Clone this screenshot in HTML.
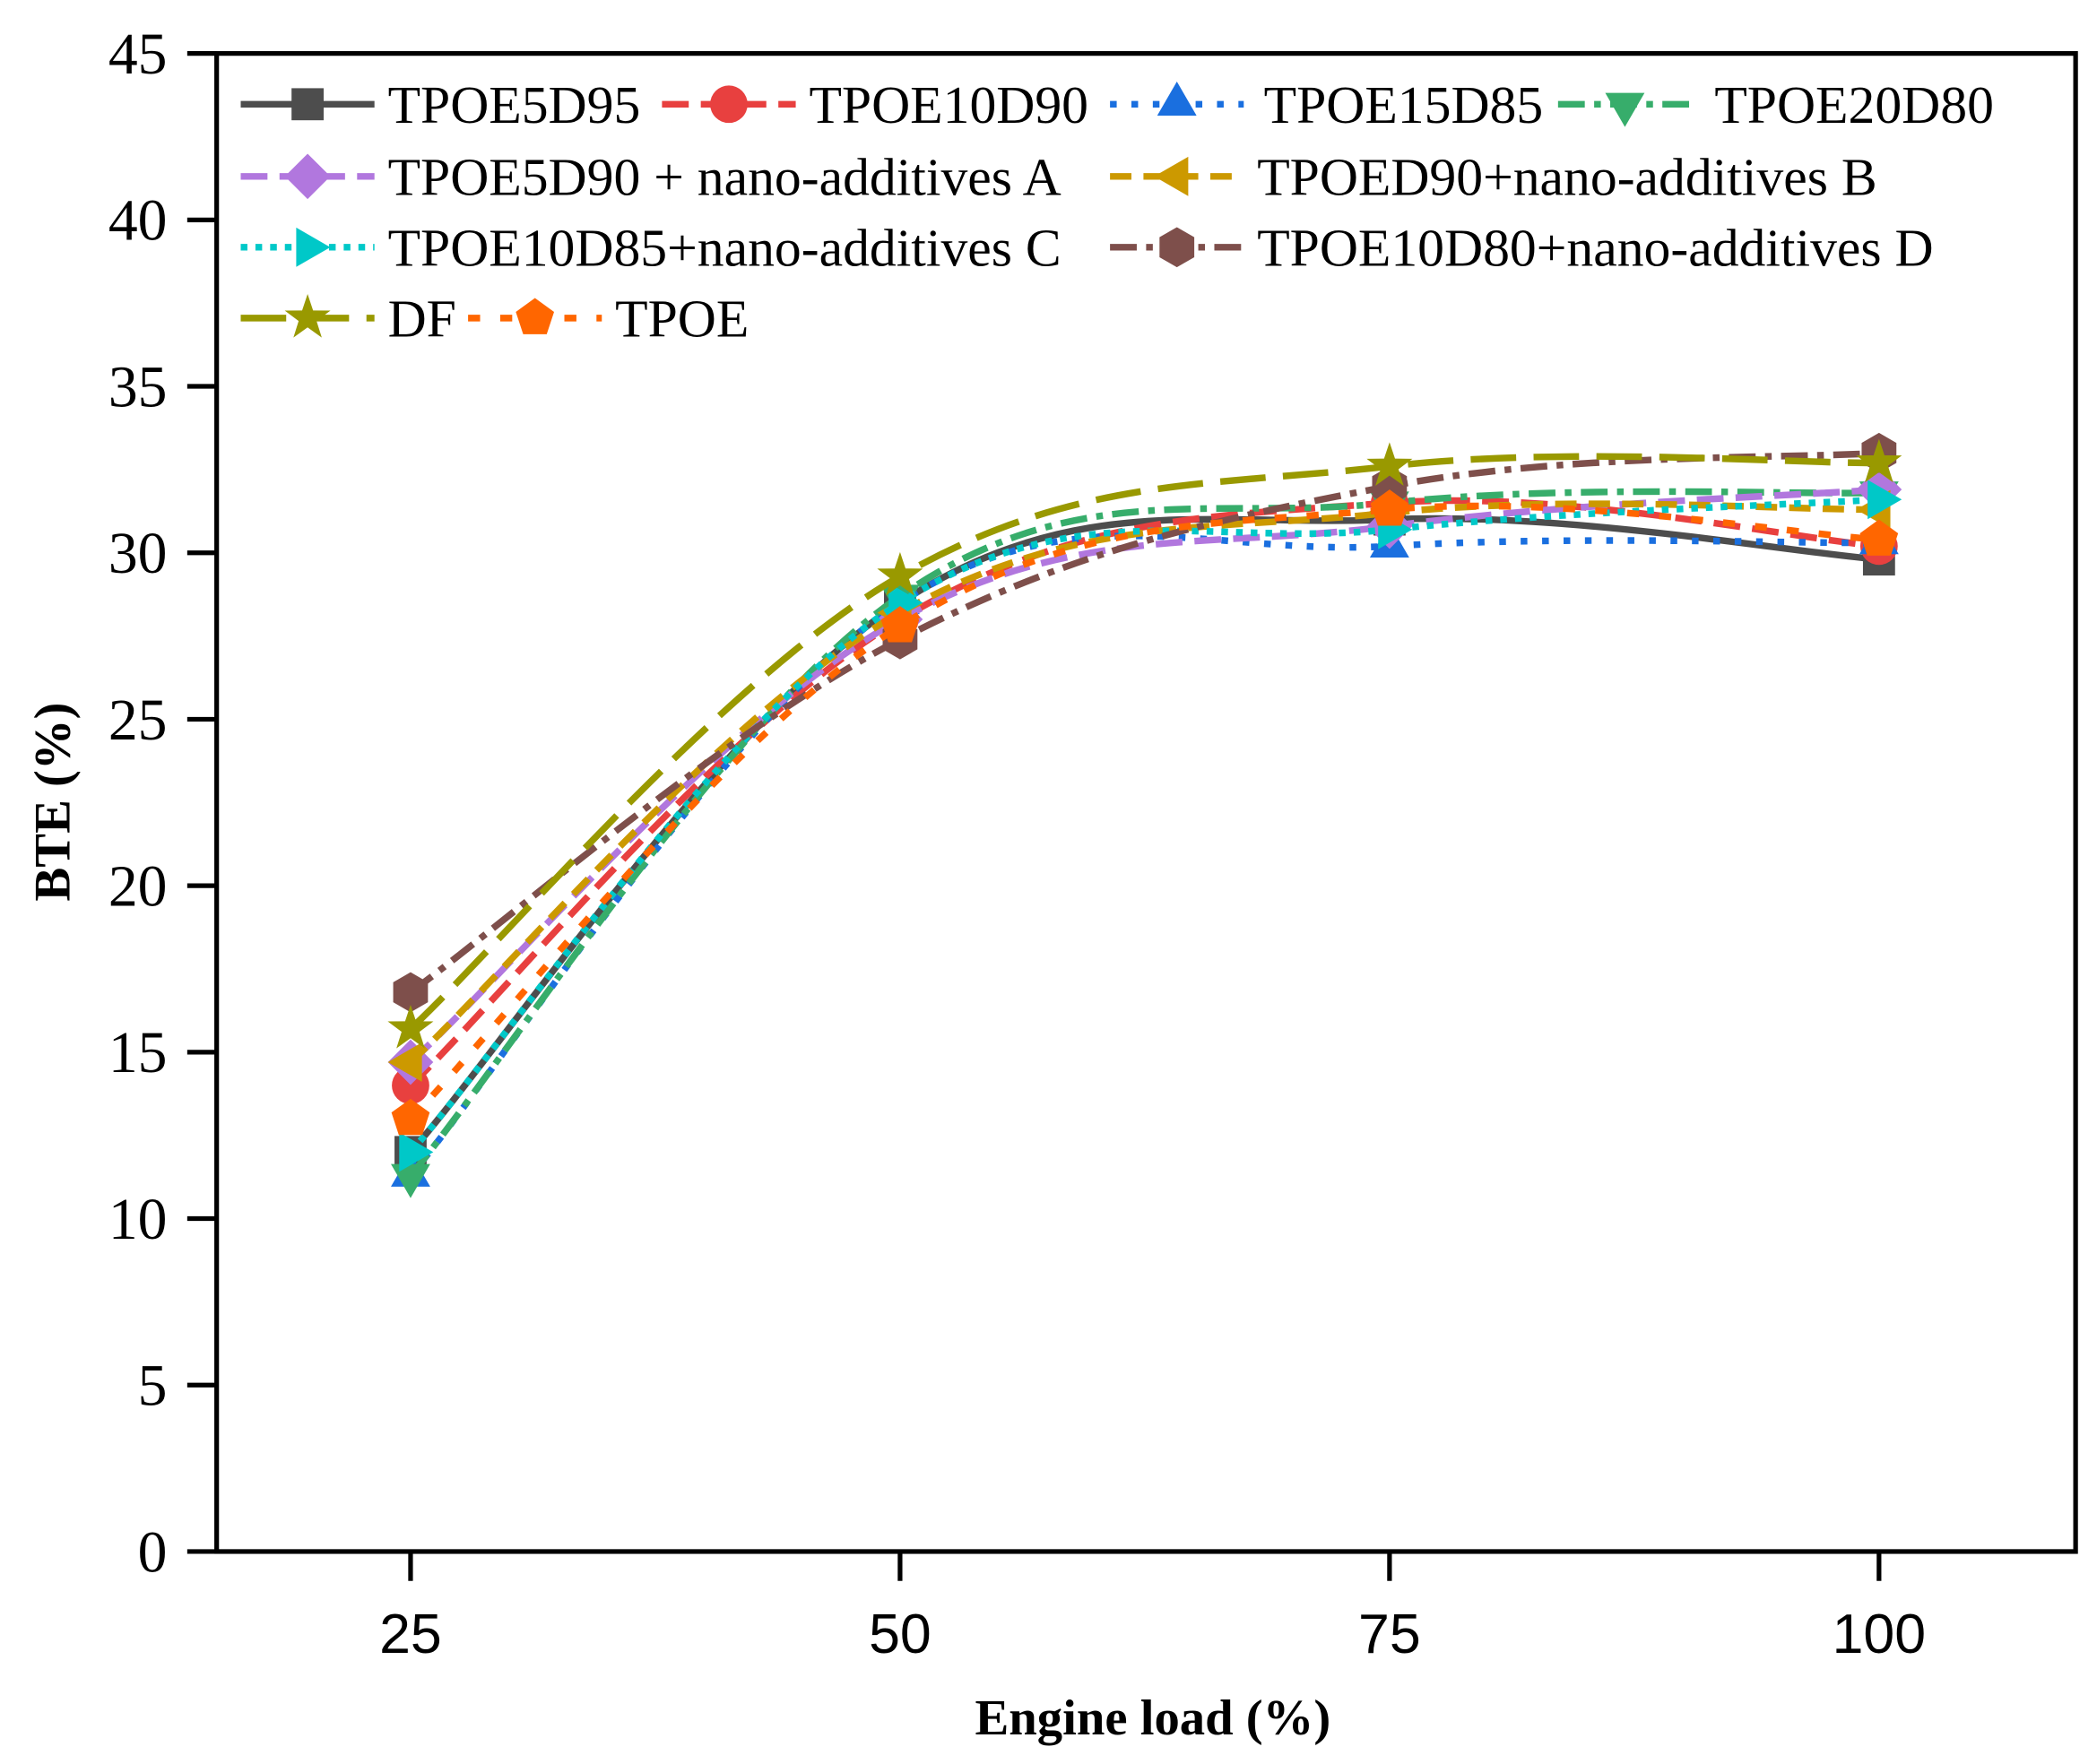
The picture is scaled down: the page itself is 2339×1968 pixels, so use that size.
<!DOCTYPE html>
<html><head><meta charset="utf-8">
<style>html,body{margin:0;padding:0;background:#fff;}svg{display:block;}</style>
</head><body>
<svg id="s" width="2339" height="1968" viewBox="0 0 1568 1320" preserveAspectRatio="none" xmlns="http://www.w3.org/2000/svg">
<rect width="1568" height="1320" fill="#fff"/>
<g id="curves"></g>
<rect x="162" y="40" width="1390" height="1121" fill="none" stroke="#000" stroke-width="3.5"/>
<g id="ticks" stroke="#000" stroke-width="3.5"></g>
<g id="labels"></g>
<g id="legend"></g>
<text x="0" y="0" transform="translate(52,600) rotate(-90)" text-anchor="middle" font-family="Liberation Serif, serif" font-weight="bold" font-size="38">BTE (%)</text>
<text x="862" y="1298" text-anchor="middle" font-family="Liberation Serif, serif" font-weight="bold" font-size="38">Engine load (%)</text>
</svg>
<script>
const NS="http://www.w3.org/2000/svg";
function el(p,t,a,txt){const e=document.createElementNS(NS,t);for(const k in a)e.setAttribute(k,a[k]);if(txt!==undefined)e.textContent=txt;p.appendChild(e);return e;}
const X=v=>307+(v-25)*366/25, Y=v=>1161-v*24.911;
const ticks=document.getElementById('ticks'),labels=document.getElementById('labels');
for(let v=0;v<=45;v+=5){const y=Y(v);el(ticks,'line',{x1:140,x2:162,y1:y,y2:y});
el(labels,'text',{x:125,y:y+15,'text-anchor':'end','font-family':'Liberation Serif, serif','font-size':44},v);}
[25,50,75,100].forEach(v=>{const x=X(v);el(ticks,'line',{x1:x,x2:x,y1:1161,y2:1183});
el(labels,'text',{x:x,y:1237,'text-anchor':'middle','font-family':'Liberation Sans, sans-serif','font-size':42},v);});
const S=[
{n:'TPOE5D95',c:'#4d4d4d',d:'none',m:'sq',v:[12,28.5,31,29.8]},
{n:'TPOE10D90',c:'#e8403f',d:'20 9',m:'ci',v:[14,28,31.5,30.2]},
{n:'TPOE15D85',c:'#1a6fdf',d:'5 11',m:'tu',v:[11.3,28.5,30.2,30.3]},
{n:'TPOE20D80',c:'#37ad6b',d:'20 7 5 7',m:'td',v:[11.3,28.7,31.5,31.8]},
{n:'TPOE5D90 + nano-additives A',c:'#b177de',d:'20 9',m:'di',v:[14.7,28,30.8,31.9]},
{n:'TPOED90+nano-additives B',c:'#cc9900',d:'16 9',m:'tl',v:[14.7,28.2,31.2,31.3]},
{n:'TPOE10D85+nano-additives C',c:'#00c8c8',d:'5 6',m:'tr',v:[12,28.5,30.7,31.6]},
{n:'TPOE10D80+nano-additives D',c:'#7e4f4b',d:'20 7 5 7',m:'hx',v:[16.8,27.4,32,33]},
{n:'DF',c:'#999900',d:'34 13',m:'st',v:[15.7,29.3,32.6,32.7]},
{n:'TPOE',c:'#ff6600',d:'9 15',m:'pe',v:[13,27.8,31.3,30.4]}];
function marker(p,t,x,y,c){let pts;
const poly=(n,rot,rr)=>{let a=[];for(let i=0;i<n;i++){const th=rot+i*2*Math.PI/n;a.push((x+rr*Math.cos(th)).toFixed(1)+','+(y+rr*Math.sin(th)).toFixed(1));}return a.join(' ');};
if(t=='sq')el(p,'rect',{x:x-12,y:y-12,width:24,height:24,fill:c});
else if(t=='ci')el(p,'circle',{cx:x,cy:y,r:14,fill:c});
else{ if(t=='tu')pts=poly(3,-Math.PI/2,17);else if(t=='td')pts=poly(3,Math.PI/2,17);else if(t=='tl')pts=poly(3,Math.PI,17);else if(t=='tr')pts=poly(3,0,17);
else if(t=='di')pts=poly(4,0,17);else if(t=='hx')pts=poly(6,Math.PI/6,15);else if(t=='pe')pts=poly(5,-Math.PI/2,15);
else if(t=='st'){let a=[];for(let i=0;i<10;i++){const th=-Math.PI/2+i*Math.PI/5,rr=i%2?7:18;a.push((x+rr*Math.cos(th)).toFixed(1)+','+(y+rr*Math.sin(th)).toFixed(1));}pts=a.join(' ');}
el(p,'polygon',{points:pts,fill:c});}}
const g=document.getElementById('curves');
S.forEach(s=>{const P=s.v.map((v,i)=>[X(25*(i+1)),Y(v)]);
let d='M'+P[0][0]+','+P[0][1];
for(let i=0;i<P.length-1;i++){const p0=P[Math.max(i-1,0)],p1=P[i],p2=P[i+1],p3=P[Math.min(i+2,P.length-1)];const k=0.18;
d+=' C'+(p1[0]+(p2[0]-p0[0])*k)+','+(p1[1]+(p2[1]-p0[1])*k)+' '+(p2[0]-(p3[0]-p1[0])*k)+','+(p2[1]-(p3[1]-p1[1])*k)+' '+p2[0]+','+p2[1];}
const a={d:d,fill:'none',stroke:s.c,'stroke-width':5};if(s.d!='none')a['stroke-dasharray']=s.d;el(g,'path',a);
P.forEach(q=>marker(g,s.m,q[0],q[1],s.c));});
const L=document.getElementById('legend');
const pos=[[180,78],[495,78],[830,78],[1165,78],[180,132],[830,132],[180,185],[830,185],[180,238],[350,238]];
const tx=[290,605,945,1282,290,940,290,940,290,460];
S.forEach((s,i)=>{const [x,y]=pos[i];const a={x1:x,x2:x+100,y1:y,y2:y,stroke:s.c,'stroke-width':5};if(s.d!='none')a['stroke-dasharray']=s.d;el(L,'line',a);
marker(L,s.m,x+50,y,s.c);el(L,'text',{x:tx[i],y:y+14,'font-family':'Liberation Serif, serif','font-size':40},s.n);});
</script>
</body></html>
